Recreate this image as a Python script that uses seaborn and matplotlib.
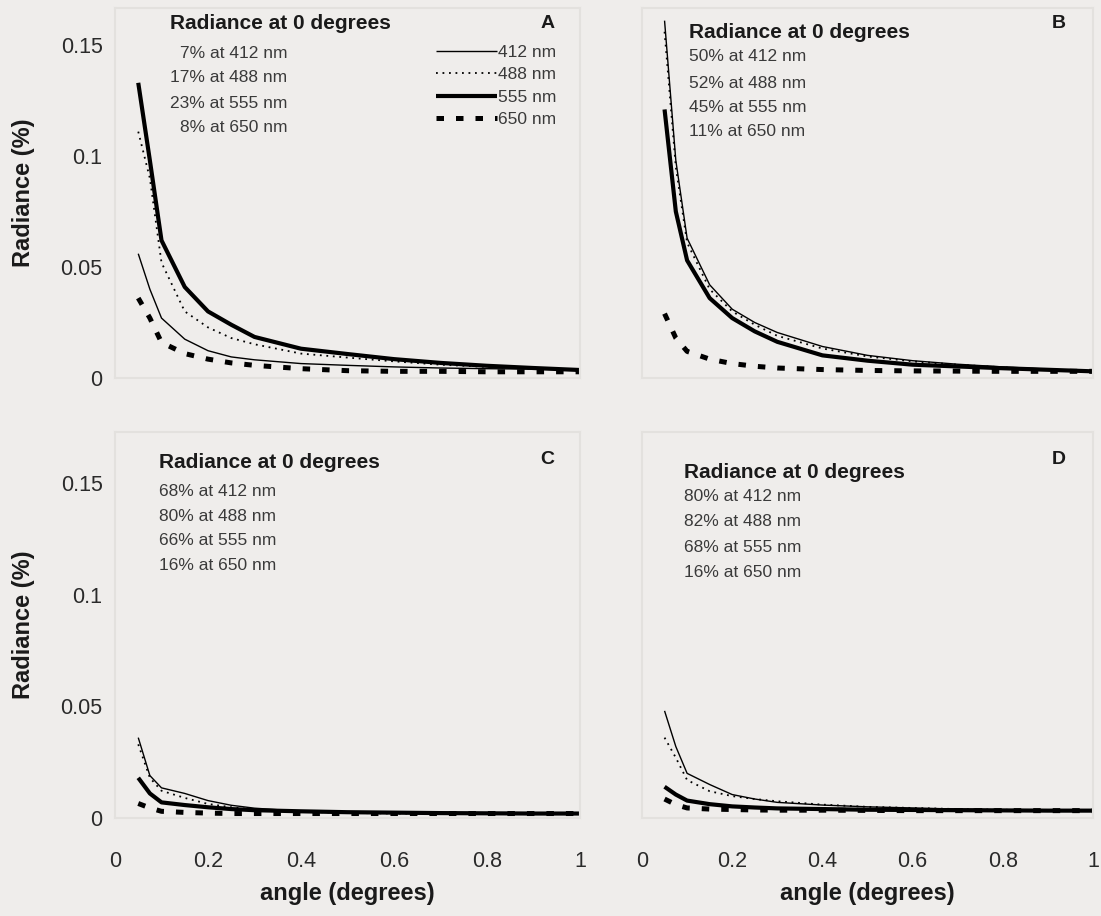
import numpy as np
import pandas as pd
import matplotlib
matplotlib.use("Agg")
import matplotlib.pyplot as plt
import seaborn as sns

sns.set_theme(style="white")
plt.rcParams["font.family"] = ["Liberation Sans", "DejaVu Sans"]

# angle (degrees) sampled along every curve
angle = [0.05, 0.075, 0.1, 0.15, 0.2, 0.25, 0.3, 0.4, 0.5, 0.6, 0.7, 0.8, 0.9, 1.0]

# panel A
a_412 = [0.056, 0.040, 0.027, 0.0175, 0.0123, 0.0095, 0.0082, 0.0065, 0.0057, 0.005, 0.0045, 0.0042, 0.004, 0.0036]
a_488 = [0.111, 0.090, 0.052, 0.030, 0.0228, 0.018, 0.0152, 0.011, 0.0092, 0.0075, 0.006, 0.005, 0.0042, 0.0036]
a_555 = [0.133, 0.098, 0.062, 0.041, 0.030, 0.024, 0.0185, 0.0132, 0.0108, 0.0085, 0.0068, 0.0055, 0.0045, 0.0036]
a_650 = [0.036, 0.027, 0.016, 0.011, 0.0085, 0.0068, 0.0057, 0.0042, 0.0033, 0.003, 0.003, 0.0028, 0.0028, 0.0028]
# panel B
b_412 = [0.161, 0.098, 0.063, 0.042, 0.031, 0.025, 0.0205, 0.0142, 0.0102, 0.0078, 0.0062, 0.005, 0.004, 0.003]
b_488 = [0.156, 0.095, 0.061, 0.040, 0.030, 0.024, 0.019, 0.0133, 0.0097, 0.0075, 0.006, 0.0048, 0.0038, 0.003]
b_555 = [0.121, 0.075, 0.053, 0.036, 0.027, 0.021, 0.0163, 0.0102, 0.0078, 0.006, 0.0052, 0.0044, 0.0037, 0.003]
b_650 = [0.029, 0.018, 0.012, 0.0085, 0.0065, 0.0053, 0.0045, 0.0038, 0.0034, 0.0032, 0.0031, 0.003, 0.003, 0.003]
# panel C
c_412 = [0.036, 0.019, 0.0135, 0.011, 0.0078, 0.0057, 0.0044, 0.003, 0.0025, 0.0022, 0.002, 0.002, 0.002, 0.002]
c_488 = [0.033, 0.018, 0.0122, 0.009, 0.0063, 0.0048, 0.0038, 0.0028, 0.0023, 0.002, 0.002, 0.002, 0.002, 0.002]
c_555 = [0.018, 0.011, 0.007, 0.0058, 0.0048, 0.004, 0.0035, 0.003, 0.0026, 0.0024, 0.0022, 0.0021, 0.002, 0.002]
c_650 = [0.0065, 0.0045, 0.003, 0.0025, 0.0022, 0.002, 0.002, 0.002, 0.002, 0.002, 0.002, 0.002, 0.002, 0.002]
# panel D
d_412 = [0.048, 0.032, 0.020, 0.015, 0.0105, 0.0085, 0.007, 0.0058, 0.005, 0.0045, 0.004, 0.0037, 0.0035, 0.0033]
d_488 = [0.036, 0.027, 0.017, 0.012, 0.0098, 0.0085, 0.0075, 0.006, 0.005, 0.0045, 0.004, 0.0037, 0.0035, 0.0033]
d_555 = [0.014, 0.0105, 0.0078, 0.0062, 0.0052, 0.0047, 0.0043, 0.004, 0.0037, 0.0036, 0.0035, 0.0034, 0.0033, 0.0033]
d_650 = [0.0085, 0.006, 0.0045, 0.004, 0.0038, 0.0036, 0.0035, 0.0035, 0.0034, 0.0033, 0.0033, 0.0033, 0.0033, 0.0033]

wavelengths = ["412 nm", "488 nm", "555 nm", "650 nm"]
pct_A = ["7% at 412 nm", "17% at 488 nm", "23% at 555 nm", "8% at 650 nm"]
pct_B = ["50% at 412 nm", "52% at 488 nm", "45% at 555 nm", "11% at 650 nm"]
pct_C = ["68% at 412 nm", "80% at 488 nm", "66% at 555 nm", "16% at 650 nm"]
pct_D = ["80% at 412 nm", "82% at 488 nm", "68% at 555 nm", "16% at 650 nm"]
y_ticks = [0, 0.05, 0.1, 0.15]
y_ticklabels = ["0", "0.05", "0.1", "0.15"]
x_ticks = [0, 0.2, 0.4, 0.6, 0.8, 1]
x_ticklabels = ["0", "0.2", "0.4", "0.6", "0.8", "1"]

# line look for each wavelength
styles = {
    "412 nm": dict(lw=1.0, ls="-"),
    "488 nm": dict(lw=1.3, ls=(0, (1, 2.6))),
    "555 nm": dict(lw=3.0, ls="-"),
    "650 nm": dict(lw=3.6, ls=(0, (1.5, 2.4))),
}

bg = "#efedeb"
W, H = 1101, 916
fig = plt.figure(figsize=(W / 100, H / 100), dpi=100, facecolor=bg)


def px_axes(x0, x1, y0, y1):
    return fig.add_axes([x0 / W, 1 - y1 / H, (x1 - x0) / W, (y1 - y0) / H])


axA = px_axes(115, 580, 8, 378)
axB = px_axes(642, 1093, 8, 378)
axC = px_axes(115, 580, 432, 818)
axD = px_axes(642, 1093, 432, 818)

panels = [
    (axA, [a_412, a_488, a_555, a_650], "A", 0.1667),
    (axB, [b_412, b_488, b_555, b_650], "B", 0.1667),
    (axC, [c_412, c_488, c_555, c_650], "C", 0.1729),
    (axD, [d_412, d_488, d_555, d_650], "D", 0.1729),
]

for ax, series, letter, ytop in panels:
    ax.set_facecolor(bg)
    for wl, vals in zip(wavelengths, series):
        df = pd.DataFrame({"angle": angle, "radiance": vals})
        st = styles[wl]
        sns.lineplot(data=df, x="angle", y="radiance", ax=ax, color="black",
                     linewidth=st["lw"], linestyle=st["ls"], label=wl,
                     solid_capstyle="butt", dash_capstyle="butt", clip_on=False)
    ax.set_xlim(0, 1)
    ax.set_ylim(0, ytop)
    ax.set_xlabel("")
    ax.set_ylabel("")
    for sp in ax.spines.values():
        sp.set_color("#e3e1de")
        sp.set_linewidth(1.5)
    ax.tick_params(length=0, labelsize=15.5, colors="#2a2a2a")
    ax.set_yticks(y_ticks)
    ax.set_xticks(x_ticks)
    if ax.get_legend() is not None:
        ax.get_legend().remove()
    ax.text(0.93 if letter in "AC" else 0.925, 0.958 if letter in "AB" else 0.93,
            letter, transform=ax.transAxes, fontsize=14, fontweight="bold",
            ha="center", va="center", color="#1a1a1a")

# left column y labels, bottom row x labels
for ax in (axA, axC):
    ax.set_yticklabels(y_ticklabels)
    ax.tick_params(axis="y", pad=9)
    ax.set_ylabel("Radiance (%)", fontsize=17, fontweight="bold", color="#1a1a1a")
    ax.yaxis.set_label_coords(-80 / 465, 0.5)
for ax in (axB, axD):
    ax.set_yticklabels([])
for ax in (axC, axD):
    ax.set_xticklabels(x_ticklabels)
    ax.tick_params(axis="x", pad=24)
    ax.set_xlabel("angle (degrees)", fontsize=17, fontweight="bold", color="#1a1a1a")
    ax.xaxis.set_label_coords(0.5, -64 / 386)
for ax in (axA, axB):
    ax.set_xticklabels([])

# annotation blocks
title = "Radiance at 0 degrees"
tkw = dict(fontsize=15, fontweight="bold", color="#1a1a1a", va="center")
pkw = dict(fontsize=12.5, color="#3a3a3a", va="center")

axA.text(0.118, 0.957, title, transform=axA.transAxes, ha="left", **tkw)
for t, yy in zip(pct_A, [0.878, 0.811, 0.743, 0.676]):
    axA.text(0.37, yy, t, transform=axA.transAxes, ha="right", **pkw)

axB.text(0.104, 0.935, title, transform=axB.transAxes, ha="left", **tkw)
for t, yy in zip(pct_B, [0.868, 0.797, 0.732, 0.665]):
    axB.text(0.104, yy, t, transform=axB.transAxes, ha="left", **pkw)

axC.text(0.095, 0.920, title, transform=axC.transAxes, ha="left", **tkw)
for t, yy in zip(pct_C, [0.847, 0.782, 0.720, 0.655]):
    axC.text(0.095, yy, t, transform=axC.transAxes, ha="left", **pkw)

axD.text(0.093, 0.896, title, transform=axD.transAxes, ha="left", **tkw)
for t, yy in zip(pct_D, [0.832, 0.767, 0.702, 0.637]):
    axD.text(0.093, yy, t, transform=axD.transAxes, ha="left", **pkw)

# legend in panel A only
handles, labels = axA.get_legend_handles_labels()
leg = axA.legend(handles, labels, loc="upper right", bbox_to_anchor=(0.965, 0.92),
                 frameon=False, fontsize=12.5, handlelength=3.5, handletextpad=0.1,
                 labelspacing=0.42, borderaxespad=0)
for txt in leg.get_texts():
    txt.set_color("#3a3a3a")

fig.savefig("out.png", dpi=100, facecolor=bg)
